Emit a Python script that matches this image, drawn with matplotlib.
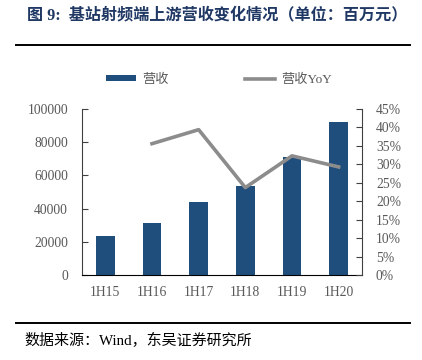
import matplotlib
matplotlib.use('Agg')
from matplotlib import pyplot as plt
from matplotlib.ticker import FuncFormatter
import numpy as np

categorias = ['1H15', '1H16', '1H17', '1H18', '1H19', '1H20']
ingresos = [23300, 31300, 43800, 53800, 71100, 92000]  # 营收 (百万元)
yoy = [None, 35.6, 39.4, 23.7, 32.3, 29.3]  # 营收YoY (%)

fuente = ['Liberation Serif', 'Noto Sans CJK SC']
plt.rcParams['font.family'] = fuente

azul = '#1f4e7c'
gris = '#8c8c8c'
texto = '#595959'

fig = plt.figure(figsize=(4.22, 3.60), dpi=100)

# titulo y lineas de marco
fig.text(0.064, 0.958, '图 9:  基站射频端上游营收变化情况（单位：百万元）',
         fontsize=11.6, fontweight='bold', color='#1f3864', va='center', ha='left')
fig.add_artist(plt.Line2D([0.038, 0.972], [0.875, 0.875], color='black', lw=1.4))
fig.add_artist(plt.Line2D([0.038, 0.972], [0.103, 0.103], color='black', lw=1.4))
fig.text(0.059, 0.053, '数据来源：Wind，东吴证券研究所', fontsize=10.8,
         color='black', va='center', ha='left')

ax = fig.add_axes([0.1943, 0.2361, 0.6635, 0.4611])
x = np.arange(len(categorias))
barras = ax.bar(x, ingresos, width=0.4, color=azul, label='营收', zorder=2)
ax.set_xlim(-0.5, len(categorias) - 0.5)
ax.set_ylim(0, 100000)
ax.set_yticks(range(0, 100001, 20000))
ax.set_xticks(x)
ax.set_xticklabels(categorias)
ax.tick_params(axis='x', length=0, pad=8, labelsize=9.8, labelcolor=texto)
ax.tick_params(axis='y', direction='in', length=4, pad=10, labelsize=9.8,
               labelcolor=texto, color='#404040')
ax.spines['top'].set_visible(False)
ax.spines['right'].set_visible(False)
ax.spines['left'].set_color('#404040')
ax.spines['bottom'].set_color('black')

ax2 = ax.twinx()
xs = [i for i, v in enumerate(yoy) if v is not None]
vs = [v for v in yoy if v is not None]
linea, = ax2.plot(xs, vs, color=gris, lw=2.6, label='营收YoY', zorder=3)
ax2.set_ylim(0, 45)
ax2.set_yticks(range(0, 46, 5))
ax2.yaxis.set_major_formatter(FuncFormatter(lambda v, p: f'{int(v)}%'))
ax2.tick_params(axis='y', direction='in', length=4, pad=10, labelsize=9.8,
                labelcolor=texto, color='#404040')
for s in ['top', 'left', 'bottom']:
    ax2.spines[s].set_visible(False)
ax2.spines['right'].set_color('#404040')

fig.legend([barras, linea], ['营收', '营收YoY'], loc='center left',
           bbox_to_anchor=(0.251, 0.778), ncol=2, frameon=False, fontsize=9.5,
           handlelength=2.27, handleheight=0.35, handletextpad=0.45,
           columnspacing=5.8, borderpad=0, borderaxespad=0, labelcolor=texto)

fig.savefig('out.png', dpi=100)
